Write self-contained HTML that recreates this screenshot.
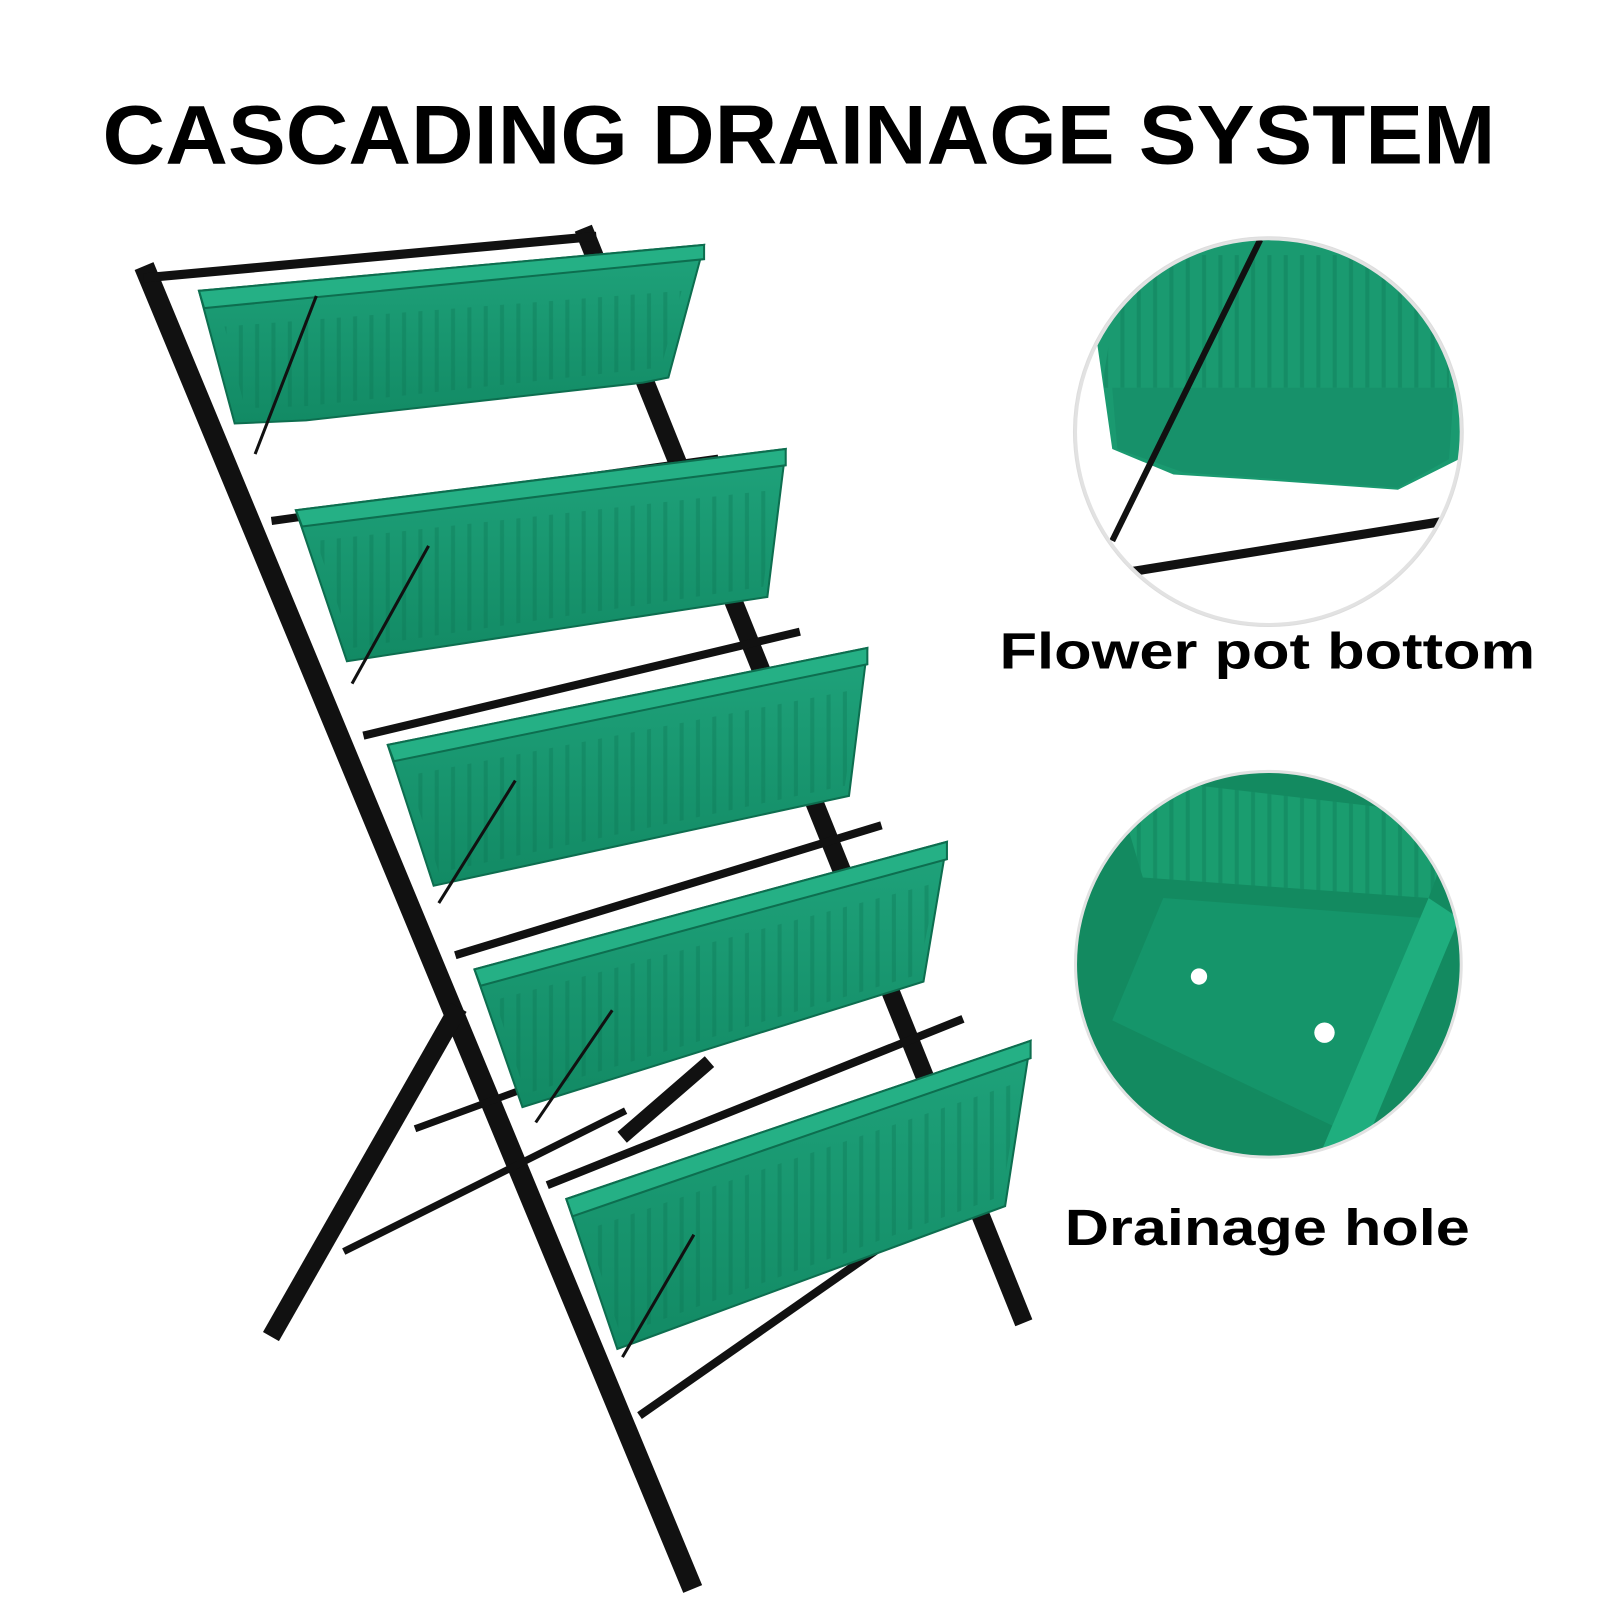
<!DOCTYPE html>
<html><head><meta charset="utf-8"><style>
html,body{margin:0;padding:0;background:#fff;width:1600px;height:1600px;overflow:hidden}
svg{display:block}
</style></head><body>
<svg width="1600" height="1600" viewBox="0 0 1568 1568" xmlns="http://www.w3.org/2000/svg">
<defs>
<linearGradient id="g" x1="0" y1="0" x2="0" y2="1"><stop offset="0" stop-color="#1fa37b"/><stop offset="1" stop-color="#128a64"/></linearGradient>
<pattern id="rib" width="16" height="40" patternUnits="userSpaceOnUse"><rect x="10" width="4" height="40" fill="#0c7554" opacity="0.35"/></pattern>
<clipPath id="c1"><circle cx="1243" cy="423" r="188"/></clipPath>
<clipPath id="c2"><circle cx="1243" cy="945" r="188"/></clipPath>
</defs>
<rect width="1568" height="1568" fill="#fff"/>
<text x="783" y="160" text-anchor="middle" font-family="Liberation Sans, sans-serif" font-weight="bold" font-size="82" textLength="1365" lengthAdjust="spacingAndGlyphs" fill="#000">CASCADING DRAINAGE SYSTEM</text>

<g stroke="#111" stroke-linecap="square" fill="none">
<line x1="145" y1="270" x2="675" y2="1548" stroke-width="20"/>
<line x1="575" y1="232" x2="1000" y2="1288" stroke-width="18"/>
<line x1="445" y1="995" x2="270" y2="1302" stroke-width="18"/>
<line x1="690" y1="1045" x2="615" y2="1110" stroke-width="14"/>
<line x1="145" y1="272" x2="580" y2="232" stroke-width="9"/>
<line x1="270" y1="510" x2="700" y2="450" stroke-width="8"/>
<line x1="360" y1="720" x2="780" y2="620" stroke-width="8"/>
<line x1="450" y1="935" x2="860" y2="810" stroke-width="8"/>
<line x1="540" y1="1160" x2="940" y2="1000" stroke-width="8"/>
<line x1="630" y1="1385" x2="945" y2="1165" stroke-width="8"/>
<line x1="340" y1="1225" x2="610" y2="1090" stroke-width="7"/>
<line x1="410" y1="1105" x2="560" y2="1050" stroke-width="7"/>
</g>

<g stroke="#0d6e4f" stroke-width="2">
<polygon points="195,285 690,240 655,370 630,375 300,412 230,415" fill="url(#g)"/>
<polygon points="220,320 668,285 648,360 300,398 240,400" fill="url(#rib)" stroke="none"/>
<polygon points="195,285 690,240 690,254 200,302" fill="#25b085"/>
<polygon points="290,500 770,440 752,585 340,648" fill="url(#g)"/>
<polygon points="310,530 760,480 748,575 345,635" fill="url(#rib)" stroke="none"/>
<polygon points="290,500 770,440 770,456 296,516" fill="#25b085"/>
<polygon points="380,730 850,635 832,780 425,868" fill="url(#g)"/>
<polygon points="400,760 842,675 828,770 430,855" fill="url(#rib)" stroke="none"/>
<polygon points="380,730 850,635 850,651 386,746" fill="#25b085"/>
<polygon points="465,950 928,825 905,962 512,1085" fill="url(#g)"/>
<polygon points="485,980 918,865 900,955 515,1072" fill="url(#rib)" stroke="none"/>
<polygon points="465,950 928,825 928,842 471,966" fill="#25b085"/>
<polygon points="555,1175 1010,1020 985,1182 605,1322" fill="url(#g)"/>
<polygon points="575,1205 1000,1060 982,1172 608,1308" fill="url(#rib)" stroke="none"/>
<polygon points="555,1175 1010,1020 1010,1037 561,1192" fill="#25b085"/>
</g>
<g stroke="#111" stroke-width="3" fill="none">
<line x1="310" y1="290" x2="250" y2="445"/>
<line x1="420" y1="535" x2="345" y2="670"/>
<line x1="505" y1="765" x2="430" y2="885"/>
<line x1="600" y1="990" x2="525" y2="1100"/>
<line x1="680" y1="1210" x2="610" y2="1330"/>
</g>

<circle cx="1243" cy="423" r="190" fill="#fff" stroke="#ddd" stroke-width="3"/>
<g clip-path="url(#c1)">
<polygon points="1060,230 1440,230 1430,450 1370,480 1230,470 1150,465 1090,440" fill="#1a9a70"/>
<polygon points="1100,250 1420,250 1420,380 1080,380" fill="url(#rib)"/>
<polygon points="1090,380 1425,380 1420,450 1370,478 1160,463 1095,440" fill="#17916a"/>
<line x1="1235" y1="235" x2="1090" y2="530" stroke="#111" stroke-width="6"/>
<line x1="1110" y1="560" x2="1420" y2="510" stroke="#111" stroke-width="9"/>
</g>
<circle cx="1243" cy="423" r="189" fill="none" stroke="#e2e2e2" stroke-width="3"/>
<text x="1242" y="655" text-anchor="middle" font-family="Liberation Sans, sans-serif" font-weight="bold" font-size="50" textLength="525" lengthAdjust="spacingAndGlyphs">Flower pot bottom</text>

<circle cx="1243" cy="945" r="190" fill="#17915f"/>
<g clip-path="url(#c2)">
<polygon points="1050,750 1440,750 1440,1140 1050,1140" fill="#138a60"/>
<polygon points="1090,760 1430,800 1400,880 1120,860" fill="#1a9d6f"/>
<polygon points="1090,760 1430,800 1400,880 1120,860" fill="url(#rib)"/>
<polygon points="1140,880 1400,900 1320,1110 1090,1000" fill="#15956a"/>
<polygon points="1400,880 1430,900 1330,1140 1290,1140" fill="#1fae7e"/>
<circle cx="1175" cy="957" r="8" fill="#fff"/>
<circle cx="1298" cy="1012" r="10" fill="#fff"/>
</g>
<circle cx="1243" cy="945" r="189" fill="none" stroke="#e2e2e2" stroke-width="3"/>
<text x="1242" y="1220" text-anchor="middle" font-family="Liberation Sans, sans-serif" font-weight="bold" font-size="50" textLength="397" lengthAdjust="spacingAndGlyphs">Drainage hole</text>
</svg>
</body></html>
